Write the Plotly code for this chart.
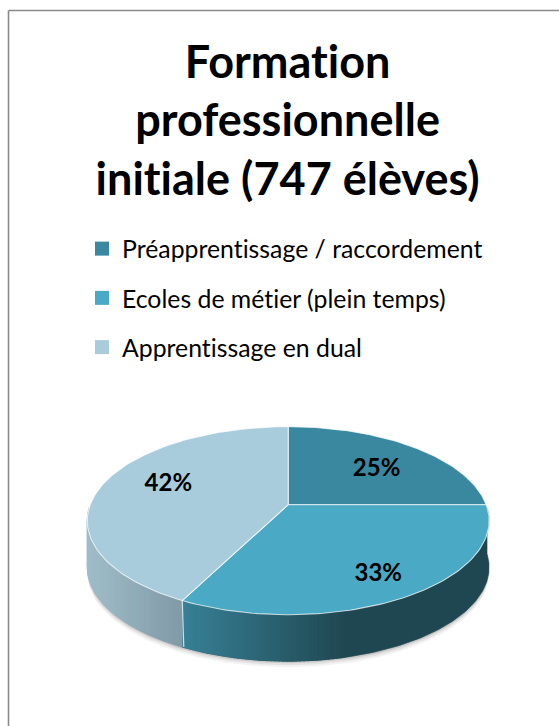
import numpy as np
import plotly.graph_objects as go

# ---- data ----
categories = ["Préapprentissage / raccordement", "Ecoles de métier (plein temps)", "Apprentissage en dual"]
values = [25, 32.5, 42.5]
labels = ["25%", "33%", "42%"]
face_colors = ["#3A87A0", "#4AA9C4", "#A8CCDB"]
title_lines = ["Formation", "professionnelle", "initiale (747 élèves)"]

# ---- pie projection (pixel-like axis units) ----
W, H = 559, 726
CX, CY = 288.2, 504.7
RX, RY, K = 198.0, 91.3, 0.170
DEPTH = 46.5


def project(theta_deg, r=1.0):
    t = np.radians(theta_deg)
    s = 1.0 / (1.0 + K * r * np.cos(t))
    return CX + RX * r * np.sin(t) * s, CY - RY * r * np.cos(t) * s


def mix(c1, c2, f):
    f = min(max(f, 0), 1)
    return "rgb(%d,%d,%d)" % tuple(round(a + (b - a) * f) for a, b in zip(c1, c2))


def wall(th, col):
    x, y = project(th)
    fig.add_trace(go.Scatter(
        x=np.concatenate([x, x[::-1]]), y=np.concatenate([y, y[::-1] + DEPTH]),
        mode="lines", fill="toself", fillcolor=col, line=dict(width=0.6, color=col),
        hoverinfo="skip", showlegend=False))


total = sum(values)
edges = np.concatenate([[0], np.cumsum(values)]) * 360.0 / total
fig = go.Figure()

# soft shadow under the pie
front = np.linspace(92, 268, 120)
fx, fy = project(front)
for off, alpha in [(6, 0.07), (4, 0.11), (2, 0.18)]:
    fig.add_trace(go.Scatter(
        x=np.concatenate([fx, fx[::-1]]), y=np.concatenate([fy + DEPTH + off, fy[::-1]]),
        mode="lines", fill="toself", fillcolor=f"rgba(90,90,90,{alpha})",
        line=dict(width=0), hoverinfo="skip", showlegend=False))

# side wall: flat backing per slice, then gradient strips shaded by horizontal position
DARK = (0x1F, 0x47, 0x51)
MID = (0x38, 0x80, 0x96)
GREY_D = (0x80, 0x9A, 0xA6)
GREY_L = (0xA0, 0xBD, 0xC9)
x_junction = project(edges[2])[0]
x_dark = 345.0
wall(np.linspace(92, edges[2], 150), mix(MID, DARK, 1))
wall(np.linspace(edges[2], 268, 60), mix(GREY_D, GREY_L, 0.5))
step = 1.0
for a in np.arange(92, 268, step):
    b = a + step + 0.3
    th = np.linspace(a, b, 3)
    xm = project(th)[0].mean()
    if a + step / 2 < edges[2]:
        if xm < x_dark:
            wall(th, mix(MID, DARK, (xm - x_junction) / (x_dark - x_junction)))
    else:
        wall(th, mix(GREY_D, GREY_L, (x_junction - xm) / (x_junction - 88)))

# seam on the wall between the slices
jx, jy = project(edges[2])
fig.add_trace(go.Scatter(x=[jx, jx + 1.5], y=[jy, jy + DEPTH], mode="lines",
                         line=dict(color="rgba(255,255,255,0.75)", width=1.2),
                         hoverinfo="skip", showlegend=False))

# top faces
for i, (name, col) in enumerate(zip(categories, face_colors)):
    th = np.linspace(edges[i], edges[i + 1], 90)
    x, y = project(th)
    fig.add_trace(go.Scatter(
        x=np.concatenate([[CX], x, [CX]]), y=np.concatenate([[CY], y, [CY]]),
        mode="lines", fill="toself", fillcolor=col,
        line=dict(color="rgba(255,255,255,0.7)", width=1.1),
        name=name, text=f"{values[i]}%", hoverinfo="name+text", showlegend=False))

# percentage labels
label_r = [0.70, 0.75, 0.66]
label_dx = [-2, 3, 4]
label_dy = [7, 5, -6]
mids = (edges[:-1] + edges[1:]) / 2
lx, ly = [], []
for m, r, dx, dy in zip(mids, label_r, label_dx, label_dy):
    px, py = project(m, r)
    lx.append(px + dx)
    ly.append(py + dy)
fig.add_trace(go.Scatter(x=lx, y=ly, mode="text", text=labels,
                         textfont=dict(family="Lato", size=24, color="#000000", weight="bold"),
                         hoverinfo="skip", showlegend=False))

# legend entries
for i, (name, col) in enumerate(zip(categories, face_colors)):
    fig.add_trace(go.Scatter(x=[None], y=[None], mode="markers", name=name, legendgroup=name,
                             marker=dict(symbol="square", size=14, color=col)))

fig.update_layout(
    width=W, height=H, autosize=False,
    margin=dict(l=0, r=0, t=0, b=0),
    paper_bgcolor="white", plot_bgcolor="white",
    xaxis=dict(visible=False, range=[0, W], fixedrange=True),
    yaxis=dict(visible=False, range=[H, 0], fixedrange=True),
    title=dict(text="<br>".join(title_lines), x=0.5145, xanchor="center", y=0.893, yanchor="top",
               font=dict(family="Lato", size=45, color="#000000", weight="bold")),
    legend=dict(x=82 / W, xanchor="left", y=1 - 226 / H, yanchor="top", tracegroupgap=14,
                font=dict(family="Lato", size=24.8, color="#000000"),
                bgcolor="rgba(0,0,0,0)", itemclick=False, itemdoubleclick=False),
    shapes=[
        dict(type="line", xref="x", yref="y", x0=8.5, x1=8.5, y0=10.5, y1=H, line=dict(color="#8A8A8A", width=1.6)),
        dict(type="line", xref="x", yref="y", x0=8.5, x1=W, y0=10.5, y1=10.5, line=dict(color="#8A8A8A", width=1.6)),
    ],
)

fig.write_html(
    "out.html",
    config=dict(displayModeBar=False),
    post_script="document.body.style.margin='0';"
                "var s=document.createElement('style');"
                "s.textContent='svg text,svg tspan{font-variant-ligatures:none !important;"
                "font-feature-settings:\"liga\" 0,\"clig\" 0 !important;letter-spacing:0.01px;}';"
                "document.head.appendChild(s);",
)
